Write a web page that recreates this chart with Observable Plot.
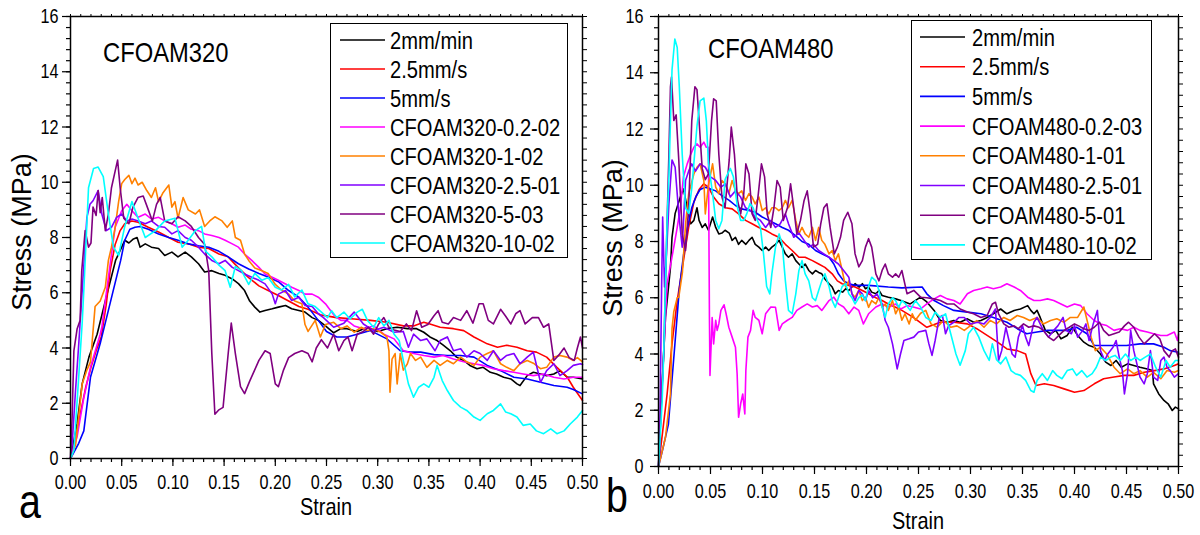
<!DOCTYPE html>
<html>
<head>
<meta charset="utf-8">
<script src="https://cdn.jsdelivr.net/npm/d3@7"></script>
<script src="https://cdn.jsdelivr.net/npm/@observablehq/plot@0.6"></script>
<style>
  html, body { margin: 0; padding: 0; background: #fff; }
  #wrap { position: relative; width: 1200px; height: 535px; overflow: hidden; background: #fff; }
  #wrap > svg, #wrap > figure { position: absolute; margin: 0; }
</style>
</head>
<body>
<div id="wrap"></div>
<script>
// ---------------- DATA ----------------
const seriesNames = ["2mm/min", "2.5mm/s", "5mm/s"];
const namesLeft = ["CFOAM320-0.2-02", "CFOAM320-1-02", "CFOAM320-2.5-01", "CFOAM320-5-03", "CFOAM320-10-02"];
const namesRight = ["CFOAM480-0.2-03", "CFOAM480-1-01", "CFOAM480-2.5-01", "CFOAM480-5-01", "CFOAM480-10-02"];
const seriesColors = ["#000000", "#ff0000", "#0000ff", "#ff00ff", "#ff8000", "#8000ff", "#800080", "#00ffff"];
const titleLeft = "CFOAM320";
const titleRight = "CFOAM480";
const xTicks = [0, 0.05, 0.10, 0.15, 0.20, 0.25, 0.30, 0.35, 0.40, 0.45, 0.50];
const yTicks = [0, 2, 4, 6, 8, 10, 12, 14, 16];

// Left panel (CFOAM320): [strain, stress MPa]
const L_black = [[0,0],[0.0065,1.27],[0.0114,2.7],[0.018,3.67],[0.026,4.5],[0.036,6.0],[0.044,7.17],[0.05,7.65],[0.053,7.9],[0.057,7.8],[0.0615,7.95],[0.065,8.0],[0.068,7.65],[0.073,7.77],[0.079,7.65],[0.086,7.6],[0.092,7.35],[0.099,7.47],[0.105,7.3],[0.112,7.47],[0.118,7.3],[0.125,7.05],[0.131,6.75],[0.138,6.8],[0.145,6.7],[0.151,6.63],[0.158,6.5],[0.164,6.33],[0.17,6.08],[0.175,5.7],[0.18,5.48],[0.185,5.3],[0.19,5.36],[0.197,5.42],[0.203,5.48],[0.21,5.54],[0.216,5.42],[0.223,5.36],[0.229,5.3],[0.236,5.1],[0.242,5.0],[0.249,4.8],[0.257,4.55],[0.264,4.7],[0.27,4.7],[0.28,4.6],[0.29,4.75],[0.3,4.6],[0.309,4.7],[0.319,4.75],[0.329,4.7],[0.338,4.7],[0.345,4.57],[0.351,4.4],[0.358,4.27],[0.364,4.1],[0.371,3.9],[0.377,3.67],[0.384,3.55],[0.39,3.37],[0.397,3.25],[0.403,3.3],[0.41,3.12],[0.416,3.06],[0.423,2.94],[0.43,2.88],[0.436,2.7],[0.439,2.64],[0.446,3.0],[0.452,3.12],[0.459,3.06],[0.465,3.0],[0.472,3.06],[0.478,3.18],[0.485,2.94],[0.491,2.94],[0.5,2.88]];
const L_red = [[0,0],[0.005,0.7],[0.01,1.7],[0.015,2.6],[0.02,3.3],[0.025,3.9],[0.03,4.4],[0.035,5.6],[0.0387,6.8],[0.0436,7.75],[0.0485,8.25],[0.053,8.5],[0.06,8.6],[0.066,8.55],[0.076,8.37],[0.086,8.2],[0.096,8.0],[0.105,7.83],[0.115,7.77],[0.125,7.65],[0.135,7.6],[0.145,7.4],[0.154,7.3],[0.164,6.9],[0.174,6.55],[0.184,6.25],[0.193,6.08],[0.203,5.9],[0.213,5.7],[0.223,5.5],[0.232,5.4],[0.244,5.2],[0.26,5.1],[0.277,5.05],[0.293,5.0],[0.309,4.93],[0.325,4.8],[0.335,4.8],[0.345,4.93],[0.351,4.87],[0.361,4.75],[0.374,4.7],[0.384,4.63],[0.394,4.4],[0.407,4.15],[0.417,4.03],[0.426,4.1],[0.436,4.03],[0.446,3.9],[0.455,3.85],[0.465,3.67],[0.475,3.3],[0.485,2.95],[0.491,2.58],[0.5,2.1]];
const L_blue = [[0,0],[0.008,0.55],[0.013,1.0],[0.0195,2.94],[0.029,4.16],[0.041,5.97],[0.049,7.17],[0.053,7.9],[0.058,8.3],[0.063,8.37],[0.068,8.4],[0.076,8.3],[0.086,8.13],[0.096,8.0],[0.105,7.9],[0.115,7.77],[0.125,7.7],[0.135,7.65],[0.145,7.5],[0.154,7.3],[0.164,7.05],[0.174,6.86],[0.184,6.7],[0.193,6.57],[0.203,6.4],[0.213,6.08],[0.223,5.84],[0.232,5.48],[0.242,5.0],[0.25,4.6],[0.26,4.4],[0.27,4.4],[0.28,4.5],[0.293,4.63],[0.309,4.33],[0.322,3.9],[0.332,3.85],[0.342,3.85],[0.355,3.76],[0.368,3.73],[0.381,3.73],[0.394,3.67],[0.407,3.37],[0.42,3.18],[0.433,2.94],[0.446,2.88],[0.459,2.76],[0.472,2.64],[0.485,2.58],[0.491,2.5],[0.5,2.34]];
const L_magenta = [[0,0],[0.0065,0.8],[0.013,2.2],[0.0195,3.3],[0.029,4.5],[0.0306,4.75],[0.037,6.56],[0.0436,8.37],[0.05,8.97],[0.055,9.2],[0.06,8.97],[0.066,8.73],[0.073,8.85],[0.079,8.67],[0.086,8.73],[0.092,8.6],[0.099,8.5],[0.105,8.37],[0.112,8.45],[0.118,8.3],[0.125,8.25],[0.131,8.13],[0.138,8.07],[0.145,8.0],[0.151,7.9],[0.158,7.77],[0.164,7.65],[0.17,7.4],[0.177,7.17],[0.184,6.92],[0.19,6.68],[0.197,6.56],[0.203,6.45],[0.21,6.32],[0.216,6.2],[0.223,6.08],[0.229,5.95],[0.236,5.95],[0.242,5.84],[0.249,5.6],[0.257,5.2],[0.264,5.0],[0.27,5.0],[0.277,4.8],[0.286,4.7],[0.296,4.8],[0.306,4.5],[0.316,4.33],[0.325,3.9],[0.335,3.8],[0.345,3.73],[0.355,3.67],[0.364,3.73],[0.374,3.6],[0.384,3.5],[0.394,3.43],[0.403,3.37],[0.413,3.25],[0.423,3.18],[0.433,3.12],[0.442,3.06],[0.452,3.0],[0.462,3.06],[0.472,2.94],[0.482,2.88],[0.491,2.94],[0.5,2.94]];
const L_orange = [[0,0],[0.005,0.5],[0.0114,2.7],[0.016,3.2],[0.0195,3.5],[0.024,5.5],[0.029,5.7],[0.034,6.2],[0.037,7.17],[0.04,7.65],[0.0436,8.37],[0.047,9.3],[0.05,9.95],[0.053,10.1],[0.057,10.25],[0.06,9.95],[0.063,10.15],[0.066,9.9],[0.07,10.0],[0.0745,9.7],[0.079,9.45],[0.083,9.8],[0.086,9.3],[0.09,9.6],[0.096,9.9],[0.099,9.1],[0.102,9.3],[0.105,8.7],[0.11,9.45],[0.115,9.0],[0.122,8.85],[0.126,9.0],[0.131,8.4],[0.136,8.6],[0.141,8.75],[0.148,8.6],[0.153,8.37],[0.158,8.6],[0.161,8.0],[0.166,7.9],[0.17,7.4],[0.174,7.17],[0.18,6.9],[0.187,6.8],[0.193,6.7],[0.2,6.3],[0.206,6.1],[0.213,5.95],[0.219,5.7],[0.226,5.6],[0.229,4.85],[0.232,4.6],[0.239,5.0],[0.244,4.4],[0.249,4.85],[0.257,4.93],[0.264,4.7],[0.27,4.8],[0.277,4.57],[0.284,4.75],[0.29,4.63],[0.296,4.7],[0.303,4.57],[0.309,4.4],[0.311,3.9],[0.312,2.4],[0.314,3.6],[0.317,3.8],[0.319,2.7],[0.322,3.8],[0.325,3.2],[0.329,3.43],[0.332,3.8],[0.337,3.55],[0.342,3.67],[0.348,3.3],[0.355,3.55],[0.361,3.37],[0.368,3.55],[0.374,3.43],[0.381,3.67],[0.387,3.5],[0.394,3.37],[0.4,3.67],[0.407,3.8],[0.413,3.9],[0.42,3.43],[0.426,3.3],[0.433,3.18],[0.439,3.43],[0.446,3.55],[0.452,3.45],[0.459,3.25],[0.465,3.3],[0.472,3.67],[0.478,3.73],[0.485,3.67],[0.491,3.55],[0.495,3.65],[0.5,3.5]];
const L_violet = [[0,0],[0.0016,0.5],[0.0049,2.46],[0.0078,4.0],[0.0127,6.8],[0.016,8.73],[0.019,9.2],[0.022,9.33],[0.027,9.7],[0.0306,8.85],[0.035,8.25],[0.04,8.37],[0.045,8.73],[0.05,8.85],[0.055,8.6],[0.06,8.67],[0.066,8.6],[0.073,8.5],[0.079,8.6],[0.086,8.4],[0.092,8.37],[0.099,8.13],[0.105,8.25],[0.112,8.0],[0.118,7.9],[0.125,7.65],[0.131,7.4],[0.138,7.17],[0.145,7.05],[0.151,7.17],[0.158,6.92],[0.164,6.8],[0.17,6.68],[0.177,6.56],[0.184,6.45],[0.19,6.32],[0.197,5.95],[0.2,5.6],[0.203,5.95],[0.21,6.08],[0.216,5.72],[0.223,5.84],[0.229,5.54],[0.236,5.5],[0.242,5.24],[0.247,5.1],[0.257,4.75],[0.267,4.9],[0.277,5.3],[0.286,4.87],[0.296,4.63],[0.306,4.75],[0.316,4.57],[0.325,4.6],[0.33,4.03],[0.335,4.5],[0.342,4.27],[0.348,4.33],[0.356,3.9],[0.361,4.27],[0.368,4.4],[0.374,3.9],[0.381,3.97],[0.387,3.67],[0.394,3.9],[0.4,3.8],[0.407,3.55],[0.413,3.9],[0.42,3.55],[0.426,3.73],[0.433,3.8],[0.439,3.43],[0.446,3.67],[0.452,3.85],[0.459,2.76],[0.465,3.18],[0.472,3.43],[0.478,3.0],[0.485,3.18],[0.491,3.37],[0.498,3.43],[0.5,3.4]];
const L_purple = [[0,0],[0.0016,1.5],[0.0033,3.9],[0.0065,4.7],[0.0094,5.0],[0.011,6.8],[0.0143,8.25],[0.0176,7.65],[0.02,7.8],[0.022,9.1],[0.025,8.8],[0.027,9.7],[0.029,8.9],[0.031,9.45],[0.034,8.25],[0.037,8.85],[0.04,9.8],[0.0436,10.4],[0.046,10.8],[0.0485,9.8],[0.052,8.7],[0.057,8.5],[0.061,9.1],[0.066,9.45],[0.071,9.5],[0.075,9.1],[0.08,8.6],[0.084,9.2],[0.0876,9.45],[0.092,8.6],[0.099,8.5],[0.105,8.75],[0.112,8.6],[0.118,8.4],[0.125,8.0],[0.131,7.75],[0.135,6.8],[0.138,3.8],[0.141,1.6],[0.1445,1.75],[0.149,1.85],[0.154,3.8],[0.157,4.9],[0.161,3.8],[0.166,2.6],[0.17,2.35],[0.175,2.8],[0.184,3.55],[0.19,3.9],[0.195,3.8],[0.2,2.7],[0.203,2.6],[0.208,3.2],[0.213,3.65],[0.219,3.8],[0.226,3.9],[0.232,3.8],[0.236,3.5],[0.24,4.0],[0.245,4.3],[0.251,4.0],[0.257,4.5],[0.262,3.9],[0.267,4.27],[0.271,4.4],[0.275,3.9],[0.28,4.5],[0.286,4.6],[0.291,4.75],[0.296,4.5],[0.301,4.87],[0.306,5.1],[0.311,4.75],[0.316,4.65],[0.322,4.6],[0.328,4.87],[0.333,4.63],[0.338,5.35],[0.343,4.75],[0.349,4.85],[0.355,5.17],[0.359,5.35],[0.363,4.93],[0.369,4.87],[0.374,5.1],[0.381,5.0],[0.387,5.35],[0.393,4.9],[0.399,5.6],[0.403,5.6],[0.408,5.0],[0.413,4.87],[0.42,5.4],[0.425,5.15],[0.43,4.87],[0.435,5.25],[0.439,5.35],[0.444,4.87],[0.451,5.1],[0.457,5.1],[0.462,4.75],[0.467,4.87],[0.472,3.55],[0.477,3.75],[0.482,4.0],[0.487,3.65],[0.492,3.55],[0.495,4.0],[0.498,4.4],[0.5,4.0]];
const L_cyan = [[0,0],[0.0033,0.3],[0.008,2.94],[0.0114,4.9],[0.013,6.08],[0.0176,9.8],[0.0225,10.5],[0.027,10.55],[0.032,10.2],[0.037,8.85],[0.042,7.65],[0.047,7.35],[0.053,8.4],[0.06,9.3],[0.066,8.7],[0.073,8.0],[0.083,8.25],[0.092,8.6],[0.102,8.7],[0.109,7.65],[0.115,7.9],[0.122,8.25],[0.128,8.4],[0.132,7.5],[0.138,7.3],[0.145,7.0],[0.151,6.8],[0.156,6.2],[0.161,6.95],[0.167,6.8],[0.174,6.3],[0.18,6.7],[0.187,6.45],[0.193,6.55],[0.2,6.2],[0.206,6.1],[0.213,6.3],[0.219,5.85],[0.226,6.1],[0.232,5.6],[0.239,5.5],[0.245,5.3],[0.251,5.1],[0.255,5.35],[0.26,5.1],[0.267,5.3],[0.273,5.05],[0.28,5.3],[0.285,5.4],[0.29,5.0],[0.296,4.75],[0.301,5.1],[0.306,4.8],[0.311,5.0],[0.316,4.5],[0.321,4.27],[0.325,3.55],[0.33,2.7],[0.335,2.22],[0.34,2.58],[0.345,2.7],[0.35,2.58],[0.355,2.94],[0.358,3.37],[0.363,2.82],[0.368,2.46],[0.374,2.1],[0.381,1.86],[0.387,1.74],[0.394,1.5],[0.4,1.38],[0.407,1.62],[0.413,1.74],[0.42,1.98],[0.425,1.68],[0.43,1.62],[0.436,1.5],[0.442,1.2],[0.449,1.25],[0.455,1.0],[0.462,0.9],[0.469,1.07],[0.475,0.9],[0.482,1.0],[0.488,1.25],[0.495,1.5],[0.5,1.74]];

// Right panel (CFOAM480)
const R_black = [[0,0],[0.0035,2.94],[0.0067,5.3],[0.0115,7.08],[0.013,8.15],[0.016,9.0],[0.021,9.58],[0.024,9.87],[0.0276,9.2],[0.031,8.63],[0.034,8.75],[0.037,9.2],[0.039,8.75],[0.042,8.5],[0.045,8.63],[0.048,8.4],[0.052,8.87],[0.055,8.5],[0.058,8.27],[0.061,8.3],[0.064,8.4],[0.068,8.3],[0.0708,8.04],[0.074,8.15],[0.077,7.9],[0.08,8.04],[0.084,7.9],[0.087,8.04],[0.09,8.15],[0.093,7.9],[0.0965,7.8],[0.0997,7.68],[0.103,7.8],[0.106,7.68],[0.109,7.8],[0.1125,7.9],[0.116,8.04],[0.119,7.8],[0.122,7.56],[0.125,7.44],[0.1285,7.56],[0.132,7.32],[0.135,7.2],[0.138,7.08],[0.141,7.2],[0.1445,6.97],[0.148,6.85],[0.151,6.97],[0.154,6.9],[0.157,6.85],[0.16,6.67],[0.164,6.5],[0.167,6.38],[0.17,6.14],[0.173,6.26],[0.177,6.2],[0.18,6.32],[0.183,6.26],[0.186,6.38],[0.189,6.5],[0.193,6.38],[0.196,6.5],[0.199,6.32],[0.202,6.38],[0.205,6.2],[0.209,6.14],[0.212,6.26],[0.215,6.08],[0.221,6.02],[0.228,5.96],[0.233,5.9],[0.242,5.78],[0.252,6.02],[0.258,5.85],[0.265,5.55],[0.271,5.19],[0.278,5.13],[0.284,5.19],[0.29,5.13],[0.297,5.25],[0.303,5.13],[0.31,5.19],[0.316,5.3],[0.322,5.43],[0.329,5.6],[0.335,5.43],[0.342,5.55],[0.348,5.6],[0.355,5.72],[0.358,5.55],[0.361,5.43],[0.364,5.55],[0.367,5.3],[0.372,4.84],[0.377,4.72],[0.382,4.84],[0.387,4.54],[0.393,4.66],[0.398,4.95],[0.403,4.66],[0.409,4.42],[0.414,4.3],[0.419,4.24],[0.425,4.0],[0.43,3.71],[0.435,3.59],[0.44,3.77],[0.445,3.53],[0.451,3.65],[0.457,3.59],[0.463,3.53],[0.47,3.47],[0.475,3.41],[0.476,2.94],[0.481,2.58],[0.486,2.35],[0.49,2.23],[0.494,1.99],[0.497,2.11],[0.5,2.05]];
const R_red = [[0,0],[0.0083,2.58],[0.013,4.37],[0.018,5.9],[0.024,7.32],[0.029,8.5],[0.034,9.4],[0.039,9.85],[0.0436,10.05],[0.048,9.93],[0.053,9.58],[0.058,9.34],[0.0644,9.2],[0.0708,9.16],[0.077,8.98],[0.0837,8.75],[0.09,8.63],[0.0965,8.5],[0.103,8.4],[0.109,8.27],[0.1157,8.15],[0.122,7.9],[0.1285,7.68],[0.135,7.44],[0.141,7.44],[0.148,7.32],[0.154,7.2],[0.16,7.08],[0.167,6.85],[0.172,6.6],[0.1766,6.5],[0.183,6.44],[0.189,6.38],[0.196,6.26],[0.202,6.14],[0.209,6.0],[0.215,5.9],[0.221,5.78],[0.228,5.66],[0.234,5.55],[0.245,5.3],[0.258,4.95],[0.271,5.13],[0.284,5.13],[0.297,5.07],[0.306,4.9],[0.316,4.66],[0.326,4.42],[0.335,4.18],[0.345,4.12],[0.353,4.0],[0.358,3.3],[0.363,2.88],[0.371,2.94],[0.38,2.88],[0.39,2.76],[0.4,2.64],[0.409,2.7],[0.419,2.94],[0.428,3.12],[0.438,3.18],[0.448,3.24],[0.457,3.24],[0.467,3.35],[0.477,3.41],[0.486,3.47],[0.496,3.59],[0.5,3.65]];
const R_blue = [[0,0],[0.004,0.6],[0.0095,1.5],[0.015,4.0],[0.02,6.3],[0.024,7.5],[0.028,8.5],[0.032,9.2],[0.036,9.6],[0.04,9.85],[0.045,9.93],[0.05,9.87],[0.055,9.8],[0.061,9.63],[0.068,9.46],[0.074,9.28],[0.08,9.16],[0.087,9.1],[0.093,9.04],[0.0997,8.87],[0.106,8.75],[0.1125,8.63],[0.119,8.5],[0.125,8.4],[0.132,8.2],[0.138,8.0],[0.1445,7.9],[0.151,7.68],[0.157,7.56],[0.164,7.44],[0.1686,7.2],[0.173,6.85],[0.178,6.6],[0.183,6.5],[0.189,6.44],[0.202,6.44],[0.221,6.38],[0.234,6.35],[0.2535,6.38],[0.258,6.14],[0.265,5.9],[0.274,5.72],[0.284,5.55],[0.297,5.49],[0.31,5.43],[0.322,5.3],[0.335,5.13],[0.345,4.9],[0.354,4.72],[0.364,4.78],[0.374,4.84],[0.383,4.84],[0.393,4.84],[0.402,4.95],[0.412,4.72],[0.419,4.3],[0.425,4.3],[0.438,4.3],[0.45,4.3],[0.463,4.36],[0.476,4.36],[0.486,4.24],[0.492,4.12],[0.5,4.06]];
const R_magenta = [[0,0],[0.002,1.75],[0.005,4.0],[0.0083,6.5],[0.0147,7.8],[0.018,8.5],[0.021,9.2],[0.024,10.3],[0.0276,10.76],[0.031,11.1],[0.034,11.35],[0.037,11.47],[0.04,11.35],[0.0436,11.53],[0.046,11.35],[0.048,11.35],[0.0484,8.75],[0.049,5.2],[0.0495,3.24],[0.0516,5.3],[0.053,4.36],[0.055,5.2],[0.0564,4.84],[0.058,5.07],[0.06,5.55],[0.063,5.75],[0.065,5.43],[0.0676,4.95],[0.0708,4.6],[0.074,4.24],[0.0756,3.3],[0.077,1.75],[0.079,2.23],[0.081,2.58],[0.083,1.87],[0.084,3.41],[0.086,4.6],[0.0885,4.84],[0.091,5.55],[0.093,5.3],[0.0965,5.2],[0.0997,4.72],[0.103,5.43],[0.108,5.67],[0.1125,5.66],[0.116,4.84],[0.119,5.07],[0.124,5.2],[0.1285,5.3],[0.133,5.55],[0.138,5.67],[0.143,5.78],[0.148,5.67],[0.1526,5.72],[0.157,5.55],[0.164,5.9],[0.1686,6.02],[0.173,5.78],[0.178,5.67],[0.183,5.43],[0.188,5.67],[0.1926,5.55],[0.197,5.07],[0.202,5.43],[0.209,5.67],[0.215,5.78],[0.221,5.67],[0.228,5.78],[0.233,5.6],[0.239,5.72],[0.245,5.67],[0.252,5.6],[0.258,5.78],[0.265,5.96],[0.271,6.08],[0.2776,5.96],[0.284,5.9],[0.29,5.78],[0.297,6.14],[0.303,6.26],[0.31,6.32],[0.316,6.38],[0.322,6.32],[0.329,6.38],[0.335,6.5],[0.342,6.38],[0.348,6.26],[0.355,6.02],[0.361,5.9],[0.367,5.9],[0.374,5.96],[0.38,5.9],[0.387,5.78],[0.393,5.67],[0.4,5.78],[0.406,5.72],[0.412,5.43],[0.419,5.19],[0.425,5.07],[0.431,5.01],[0.438,4.84],[0.444,4.9],[0.451,4.84],[0.457,4.95],[0.463,4.84],[0.47,4.78],[0.476,4.72],[0.483,4.66],[0.489,4.66],[0.496,4.78],[0.499,4.48],[0.5,4.7]];
const R_orange = [[0,0],[0.0067,1.04],[0.0115,2.58],[0.013,4.9],[0.0147,5.5],[0.018,6.0],[0.0195,6.02],[0.023,6.9],[0.026,8.6],[0.029,9.7],[0.034,10.4],[0.037,10.64],[0.04,10.76],[0.0436,10.17],[0.045,8.98],[0.048,10.0],[0.052,10.76],[0.055,9.93],[0.058,9.7],[0.061,10.17],[0.064,10.05],[0.0676,9.7],[0.0708,10.17],[0.074,9.8],[0.077,9.7],[0.08,9.8],[0.0837,9.46],[0.087,9.7],[0.09,9.58],[0.093,9.34],[0.0965,9.58],[0.0997,9.1],[0.103,9.2],[0.106,8.98],[0.109,9.2],[0.1125,9.2],[0.1157,9.1],[0.119,9.2],[0.122,9.46],[0.125,9.2],[0.1285,9.46],[0.132,8.75],[0.135,8.27],[0.138,8.5],[0.141,8.27],[0.1445,8.15],[0.148,8.5],[0.151,8.04],[0.154,8.5],[0.157,8.04],[0.16,7.9],[0.164,7.56],[0.167,7.68],[0.17,7.32],[0.173,7.56],[0.1766,6.97],[0.18,6.38],[0.183,6.6],[0.186,6.14],[0.189,6.02],[0.1926,6.26],[0.196,5.9],[0.199,6.02],[0.202,5.66],[0.205,5.9],[0.209,5.78],[0.212,6.02],[0.215,5.66],[0.218,5.78],[0.221,5.55],[0.225,5.9],[0.228,5.43],[0.231,5.66],[0.234,5.2],[0.237,5.43],[0.241,5.07],[0.244,5.43],[0.247,5.2],[0.252,5.45],[0.257,5.55],[0.262,5.07],[0.268,4.95],[0.274,5.19],[0.281,4.95],[0.287,5.0],[0.294,4.84],[0.3,5.01],[0.306,5.19],[0.313,4.95],[0.319,5.19],[0.325,5.07],[0.332,5.3],[0.338,5.19],[0.345,5.37],[0.351,5.3],[0.357,5.19],[0.364,5.3],[0.37,5.07],[0.377,5.19],[0.383,5.25],[0.39,5.13],[0.396,5.3],[0.403,5.3],[0.409,5.67],[0.416,4.6],[0.42,4.12],[0.425,4.24],[0.431,4.0],[0.438,3.53],[0.444,3.3],[0.451,3.47],[0.457,3.3],[0.463,3.41],[0.47,3.18],[0.476,3.35],[0.483,3.12],[0.489,3.41],[0.496,3.35],[0.5,3.41]];
const R_violet = [[0,0],[0.001,0.45],[0.003,6.38],[0.004,8.87],[0.0058,6.38],[0.0077,7.56],[0.01,9.34],[0.013,10.9],[0.016,10.64],[0.0195,8.98],[0.0228,7.8],[0.026,10.17],[0.029,10.5],[0.032,10.76],[0.0356,10.5],[0.04,10.76],[0.045,10.64],[0.05,10.3],[0.055,10.17],[0.06,9.93],[0.0644,10.05],[0.069,9.58],[0.074,9.8],[0.079,9.58],[0.0837,9.2],[0.0885,9.1],[0.093,8.87],[0.098,8.75],[0.103,8.5],[0.108,8.75],[0.1125,8.5],[0.117,8.63],[0.122,8.98],[0.125,8.63],[0.13,8.15],[0.135,8.3],[0.14,8.04],[0.1445,7.8],[0.149,7.9],[0.154,7.68],[0.159,7.56],[0.164,7.44],[0.1686,7.32],[0.173,7.2],[0.178,6.97],[0.183,6.73],[0.186,6.14],[0.189,5.9],[0.1926,6.26],[0.196,6.14],[0.199,5.9],[0.202,6.26],[0.206,6.0],[0.21,6.14],[0.215,5.78],[0.218,5.19],[0.221,4.95],[0.225,4.36],[0.228,3.77],[0.2295,3.47],[0.2327,4.0],[0.236,4.48],[0.241,4.54],[0.2455,4.6],[0.25,4.78],[0.257,4.84],[0.26,4.36],[0.263,3.95],[0.266,4.48],[0.27,5.3],[0.273,5.37],[0.276,4.72],[0.279,5.01],[0.284,5.13],[0.289,5.3],[0.294,5.3],[0.3,5.07],[0.307,5.13],[0.313,5.07],[0.319,5.3],[0.324,5.6],[0.327,3.77],[0.33,4.12],[0.334,4.95],[0.337,4.48],[0.34,4.0],[0.343,3.89],[0.346,4.6],[0.35,5.01],[0.353,4.6],[0.356,4.3],[0.361,5.13],[0.364,5.3],[0.367,5.07],[0.37,4.84],[0.375,4.6],[0.38,4.84],[0.384,5.0],[0.389,5.3],[0.392,4.84],[0.397,4.72],[0.4,5.01],[0.403,4.6],[0.408,4.84],[0.411,5.07],[0.414,4.48],[0.418,5.07],[0.422,5.55],[0.425,4.12],[0.429,3.77],[0.432,4.0],[0.437,4.24],[0.44,4.48],[0.443,3.89],[0.446,3.41],[0.448,2.58],[0.451,3.3],[0.454,4.84],[0.457,4.12],[0.46,3.65],[0.463,3.18],[0.467,2.94],[0.47,3.3],[0.473,4.12],[0.476,3.18],[0.48,3.06],[0.483,3.77],[0.486,3.89],[0.489,3.53],[0.492,3.41],[0.496,3.18],[0.5,3.3]];
const R_purple = [[0,0],[0.005,4.0],[0.0083,8.75],[0.01,11.1],[0.0115,13.5],[0.0125,13.85],[0.0147,12.3],[0.017,12.5],[0.0195,10.9],[0.0228,8.27],[0.026,7.68],[0.029,9.2],[0.032,12.3],[0.035,13.5],[0.037,13.4],[0.039,12.3],[0.042,10.6],[0.045,10.2],[0.048,10.4],[0.051,12.3],[0.053,13.07],[0.0555,13.0],[0.058,11.1],[0.061,9.58],[0.064,9.2],[0.068,10.9],[0.07,12.07],[0.073,11.1],[0.076,9.46],[0.079,8.98],[0.082,9.7],[0.084,10.76],[0.087,10.4],[0.09,8.98],[0.093,8.75],[0.096,9.7],[0.099,10.76],[0.102,10.3],[0.1045,8.98],[0.108,8.5],[0.111,9.2],[0.114,10.17],[0.117,9.93],[0.12,8.75],[0.124,9.2],[0.127,10.05],[0.13,9.2],[0.133,8.27],[0.1365,8.75],[0.14,9.46],[0.143,9.8],[0.146,8.98],[0.149,7.8],[0.153,7.9],[0.156,8.63],[0.159,9.2],[0.162,9.34],[0.165,8.5],[0.169,7.56],[0.172,7.8],[0.175,8.15],[0.178,8.75],[0.182,9.04],[0.186,8.63],[0.189,7.56],[0.1926,7.1],[0.196,7.32],[0.199,7.8],[0.202,8.1],[0.205,7.8],[0.209,6.85],[0.212,6.6],[0.215,6.97],[0.218,7.2],[0.221,6.85],[0.225,6.73],[0.228,6.85],[0.231,6.73],[0.234,6.97],[0.239,6.14],[0.2455,6.26],[0.252,6.02],[0.258,6.0],[0.265,5.96],[0.271,5.9],[0.2776,5.78],[0.284,5.78],[0.29,5.6],[0.297,5.49],[0.303,5.43],[0.31,5.3],[0.316,5.37],[0.321,5.78],[0.324,5.84],[0.327,5.43],[0.332,5.07],[0.337,4.95],[0.342,5.0],[0.346,4.9],[0.351,5.07],[0.356,4.95],[0.361,5.0],[0.366,4.95],[0.37,4.84],[0.375,4.6],[0.38,4.48],[0.385,4.66],[0.39,4.84],[0.395,4.95],[0.4,5.07],[0.404,5.0],[0.409,4.9],[0.414,4.84],[0.419,4.95],[0.424,5.13],[0.428,4.84],[0.433,4.66],[0.438,4.72],[0.443,4.78],[0.448,5.0],[0.452,5.13],[0.457,4.95],[0.462,4.6],[0.467,4.36],[0.472,4.54],[0.477,4.72],[0.482,4.54],[0.486,4.12],[0.491,3.89],[0.494,4.12],[0.497,4.18],[0.5,3.89]];
const R_cyan = [[0,0],[0.0035,2.3],[0.005,4.0],[0.0083,8.75],[0.01,10.3],[0.0115,12.3],[0.013,14.1],[0.0157,15.2],[0.018,14.9],[0.02,13.5],[0.0228,11.1],[0.026,9.2],[0.029,9.0],[0.032,9.9],[0.037,12.1],[0.04,13.0],[0.0436,13.1],[0.046,12.3],[0.048,10.8],[0.052,9.7],[0.055,8.75],[0.058,8.45],[0.061,8.75],[0.064,10.2],[0.069,10.6],[0.072,10.3],[0.076,9.2],[0.079,8.75],[0.082,8.75],[0.085,9.0],[0.088,9.35],[0.091,9.2],[0.095,8.75],[0.098,8.5],[0.101,7.55],[0.104,6.4],[0.107,6.14],[0.109,6.85],[0.1125,7.8],[0.116,8.27],[0.119,7.9],[0.122,6.6],[0.125,5.55],[0.1285,5.43],[0.132,6.14],[0.135,6.97],[0.138,7.32],[0.141,6.85],[0.1445,6.6],[0.148,6.0],[0.151,5.9],[0.154,6.26],[0.157,6.6],[0.16,6.85],[0.164,6.4],[0.167,5.9],[0.17,5.66],[0.173,6.0],[0.1766,6.4],[0.18,6.5],[0.183,6.14],[0.186,6.0],[0.189,5.78],[0.1926,6.0],[0.196,6.1],[0.199,5.9],[0.202,6.4],[0.205,6.73],[0.209,6.6],[0.212,6.26],[0.215,5.66],[0.218,5.3],[0.221,5.78],[0.225,6.0],[0.228,5.9],[0.231,5.66],[0.234,5.9],[0.2375,5.78],[0.242,5.55],[0.247,5.9],[0.252,5.67],[0.257,5.3],[0.262,5.19],[0.266,5.49],[0.271,5.3],[0.276,5.43],[0.281,4.72],[0.286,4.0],[0.29,3.6],[0.295,4.12],[0.298,4.72],[0.303,4.95],[0.308,4.6],[0.313,4.12],[0.318,3.77],[0.321,4.36],[0.325,3.8],[0.329,3.65],[0.334,3.89],[0.339,3.41],[0.343,3.3],[0.348,3.24],[0.353,3.06],[0.358,2.7],[0.361,2.64],[0.364,3.06],[0.369,3.3],[0.374,3.06],[0.379,3.41],[0.383,3.24],[0.388,3.12],[0.393,3.41],[0.398,3.47],[0.402,3.24],[0.407,3.41],[0.412,3.18],[0.417,3.3],[0.421,3.53],[0.425,3.89],[0.43,3.77],[0.435,3.89],[0.439,3.95],[0.444,3.77],[0.449,4.0],[0.454,3.77],[0.459,3.89],[0.463,3.77],[0.468,3.89],[0.473,4.0],[0.478,3.53],[0.483,3.18],[0.488,3.77],[0.492,3.53],[0.497,3.77],[0.5,3.77]];

const leftSeries = [L_black, L_red, L_blue, L_magenta, L_orange, L_violet, L_purple, L_cyan];
const rightSeries = [R_black, R_red, R_blue, R_magenta, R_orange, R_violet, R_purple, R_cyan];

// ---------------- RENDER ----------------
const FONT = '"Liberation Sans",Arial,Helvetica,sans-serif';
const wrap = document.getElementById("wrap");
const minorX = d3.range(0, 51).map(i => i / 100);
const minorY = d3.range(0, 41).map(i => i * 0.4);
const blank = () => "";

// horizontally condense rendered text by fitting glyphs into a shorter length
function condense(root, f) {
  root.querySelectorAll("text").forEach(t => {
    if (!t.textContent) return;
    const L = t.getComputedTextLength();
    if (L > 0) {
      t.setAttribute("textLength", (L * f).toFixed(2));
      t.setAttribute("lengthAdjust", "spacingAndGlyphs");
    }
  });
}

function panel(series, cfg) {
  const marks = series.map((data, i) => Plot.line(data, {
    x: d => d[0], y: d => d[1], stroke: seriesColors[i], strokeWidth: 1.6
  }));
  marks.push(
    Plot.axisX({ticks: minorX, tickSize: 4, tickFormat: blank, label: null, strokeWidth: 1.2}),
    Plot.axisX({ticks: xTicks, tickSize: 8, tickPadding: cfg.xPad, tickFormat: d3.format(".2f"), label: null, fontSize: 21, strokeWidth: 1.2}),
    Plot.axisY({ticks: minorY, tickSize: 4, tickFormat: blank, label: null, strokeWidth: 1.2}),
    Plot.axisY({ticks: yTicks, tickSize: 8, tickPadding: cfg.yPad, label: null, fontSize: 21, strokeWidth: 1.2}),
    Plot.axisX({anchor: "top", ticks: minorX, tickSize: 3, tickFormat: blank, label: null}),
    Plot.axisY({anchor: "right", ticks: minorY, tickSize: 4, tickFormat: blank, label: null}),
    Plot.frame({stroke: "black", strokeWidth: 1.5})
  );
  const svg = Plot.plot({
    width: cfg.width, height: 535,
    marginLeft: cfg.ml, marginRight: cfg.mr, marginTop: cfg.mt, marginBottom: 535 - cfg.bottom,
    x: {domain: [0, 0.5]},
    y: {domain: [0, 16]},
    style: {fontFamily: FONT, fontSize: "21px", color: "black", background: "transparent", overflow: "visible"},
    marks
  });
  svg.style.left = cfg.left + "px";
  svg.style.top = "0px";
  wrap.appendChild(svg);
  condense(svg, 0.77);
}

panel(leftSeries, {width: 595, left: 0, ml: 70, mr: 13, mt: 16, bottom: 458, xPad: 8, yPad: 4});
panel(rightSeries, {width: 605, left: 595, ml: 63, mr: 22, mt: 16, bottom: 466, xPad: 9, yPad: 7});

// Overlay texts and legends
const ov = d3.select(wrap).append("svg")
  .attr("width", 1200).attr("height", 535)
  .style("position", "absolute").style("left", 0).style("top", 0)
  .style("pointer-events", "none");

function txt(x, y, s, size, sx, anchor = "start", rotate = 0) {
  ov.append("text")
    .attr("transform", `translate(${x},${y}) rotate(${rotate}) scale(${sx},1)`)
    .attr("text-anchor", anchor)
    .attr("font-family", FONT)
    .attr("font-size", size)
    .attr("fill", "black")
    .text(s);
}

txt(103, 62, titleLeft, 27, 0.88);
txt(708, 58, titleRight, 27, 0.88);
txt(326, 515, "Strain", 24, 0.83, "middle");
txt(918, 529, "Strain", 24, 0.83, "middle");
txt(31, 232, "Stress (MPa)", 27, 1, "middle", -90);
txt(622, 238, "Stress (MPa)", 27, 1, "middle", -90);
txt(19, 518, "a", 48, 0.82);
txt(606, 512, "b", 48, 0.82);

function legend(x0, y0, x1, y1, labels, firstRow, step, lx0, lx1, tx) {
  ov.append("rect").attr("x", x0 + 0.5).attr("y", y0 + 0.5)
    .attr("width", x1 - x0).attr("height", y1 - y0)
    .attr("fill", "white").attr("stroke", "black").attr("stroke-width", 1);
  labels.forEach((lab, i) => {
    const y = firstRow + i * step;
    ov.append("line").attr("x1", lx0).attr("x2", lx1).attr("y1", y).attr("y2", y)
      .attr("stroke", seriesColors[i]).attr("stroke-width", 1.6);
    ov.append("text")
      .attr("transform", `translate(${tx},${y}) scale(0.84,1)`)
      .attr("dy", "0.36em")
      .attr("font-family", FONT).attr("font-size", 24).attr("fill", "black")
      .text(lab);
  });
}
legend(330, 23, 567, 257, seriesNames.concat(namesLeft), 40, 29.0, 340, 385, 390);
legend(911, 20, 1151, 259, seriesNames.concat(namesRight), 37, 29.7, 920, 965, 972);
</script>
</body>
</html>
